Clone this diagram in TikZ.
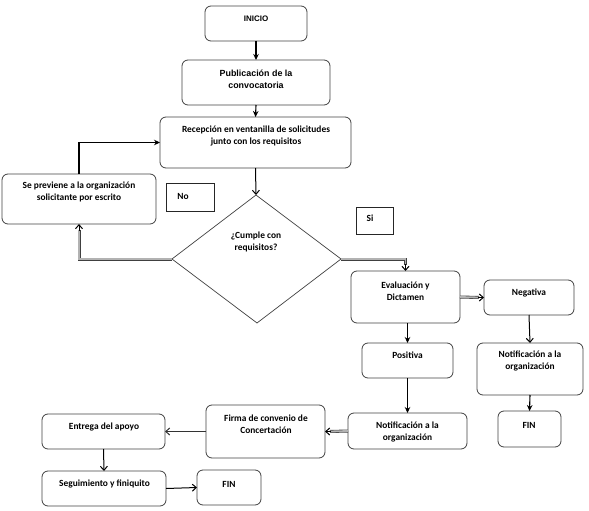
\documentclass[tikz,border=0pt]{standalone}
\usepackage{fontspec}
\setmainfont{Carlito}
\newfontfamily\arialf{Liberation Sans}
\usetikzlibrary{arrows.meta}
\begin{document}
\begin{tikzpicture}[x=1pt,y=-1pt,
  box/.style={draw=black!75, line width=0.8pt, rounded corners=6pt, inner sep=0pt, outer sep=0pt},
  sq/.style={draw=black!85, line width=0.7pt, inner sep=0pt, outer sep=0pt},
  txt/.style={font=\fontsize{9.4}{12}\selectfont\bfseries, align=center, inner sep=0pt},
  atxt/.style={font=\arialf\fontsize{8.9}{12}\selectfont\bfseries, align=center, inner sep=0pt},
  arrF/.style={-{Stealth[length=6pt,width=5.5pt]}, line width=1.1pt, black},
  arrO/.style={-{Straight Barb[length=4pt,width=7pt]}, line width=1pt, black},
  dbl/.style={draw=black!75, double=gray!60, double distance=1.8pt, line width=0.6pt},
]
\useasboundingbox (0,0) rectangle (589,511);
% boxes
\node[box, minimum width=102pt, minimum height=35pt] (ini) at (256,23.5) {};
\node[box, minimum width=148pt, minimum height=45pt] (pub) at (256,82.5) {};
\node[box, minimum width=191pt, minimum height=51pt] (rec) at (255.5,142.5) {};
\node[box, minimum width=154pt, minimum height=50pt] (sp) at (79,199) {};
\node[sq, minimum width=48pt, minimum height=28pt] (no) at (190,197) {};
\node[sq, minimum width=37pt, minimum height=27pt] (si) at (374.5,220.5) {};
\coordinate (dt) at (256,195);
\coordinate (dr) at (341,259);
\coordinate (db) at (257,323);
\coordinate (dl) at (172,259);
\draw[draw=black!75, line width=0.7pt] (dt) -- (dr) -- (db) -- (dl) -- cycle;
\node[box, minimum width=109pt, minimum height=52pt] (ev) at (405.5,297) {};
\node[box, minimum width=90pt, minimum height=35pt] (neg) at (529,297.5) {};
\node[box, minimum width=106pt, minimum height=52pt] (nr) at (530,369) {};
\node[box, minimum width=63pt, minimum height=36pt] (finr) at (529.5,429) {};
\node[box, minimum width=91pt, minimum height=35pt] (pos) at (407.5,360.5) {};
\node[box, minimum width=119pt, minimum height=36pt] (nm) at (407.5,431) {};
\node[box, minimum width=119pt, minimum height=53pt] (fir) at (265.5,431.5) {};
\node[box, minimum width=123pt, minimum height=35pt] (ent) at (103.5,431.5) {};
\node[box, minimum width=124pt, minimum height=35pt] (seg) at (104,488.5) {};
\node[box, minimum width=64pt, minimum height=35pt] (finb) at (229,487.5) {};
% texts
\node[atxt, font=\arialf\fontsize{8}{10}\selectfont\bfseries] (t-ini) at (256,19) {INICIO};
\node[atxt] (t-pub) at (256,79) {Publicación de la\\convocatoria};
\node[txt] (t-rec) at (256,136) {Recepción en ventanilla de solicitudes\\junto con los requisitos};
\node[txt] (t-sp) at (79,192) {Se previene a la organización\\solicitante por escrito};
\node[txt] (t-no) at (183,196) {No};
\node[txt] (t-si) at (370,218) {Si};
\node[txt] (t-d) at (256,242) {¿Cumple con\\requisitos?};
\node[txt] (t-ev) at (405.5,291) {Evaluación y\\Dictamen};
\node[txt] (t-neg) at (529,293) {Negativa};
\node[txt] (t-nr) at (530,361) {Notificación a la\\organización};
\node[txt] (t-finr) at (529,425) {FIN};
\node[txt] (t-pos) at (407.5,355) {Positiva};
\node[txt] (t-nm) at (407.5,431.5) {Notificación a la\\organización};
\node[txt] (t-fir) at (266,424) {Firma de convenio de\\Concertación};
\node[txt] (t-ent) at (104,427) {Entrega del apoyo};
\node[txt] (t-seg) at (104.5,484) {Seguimiento y finiquito};
\node[txt] (t-finb) at (229,484) {FIN};
% connectors
\draw[arrF] (ini.south) -- (pub.north);
\draw[arrF] (pub.south) -- (rec.north);
\draw[arrO] (rec.south) -- (dt);
\draw[arrF] (sp.north) |- (rec.west);
\draw[dbl] (dl) -| ([yshift=-6pt]sp.south);
\draw[arrO] ([yshift=-7pt]sp.south) -- (sp.south);
\draw[dbl] (dr) -| ([yshift=6pt]ev.north);
\draw[arrO] ([yshift=7pt]ev.north) -- (ev.north);
\draw[dbl] (ev.east) -- ([xshift=-5pt]neg.west);
\draw[arrO] ([xshift=-6pt]neg.west) -- (neg.west);
\draw[arrO] (neg.south) -- (nr.north);
\draw[arrF] (nr.south) -- (finr.north);
\draw[arrF] (ev.south -| pos.north) -- (pos.north);
\draw[arrF] (pos.south) -- (nm.north);
\draw[dbl] (nm.west) -- ([xshift=5pt]fir.east);
\draw[arrO] ([xshift=6pt]fir.east) -- (fir.east);
\draw[arrO, draw=black!80] (fir.west) -- (ent.east);
\draw[arrO] (ent.south) -- (seg.north);
\draw[arrO] (seg.east) -- (finb.west);
\end{tikzpicture}
\end{document}
